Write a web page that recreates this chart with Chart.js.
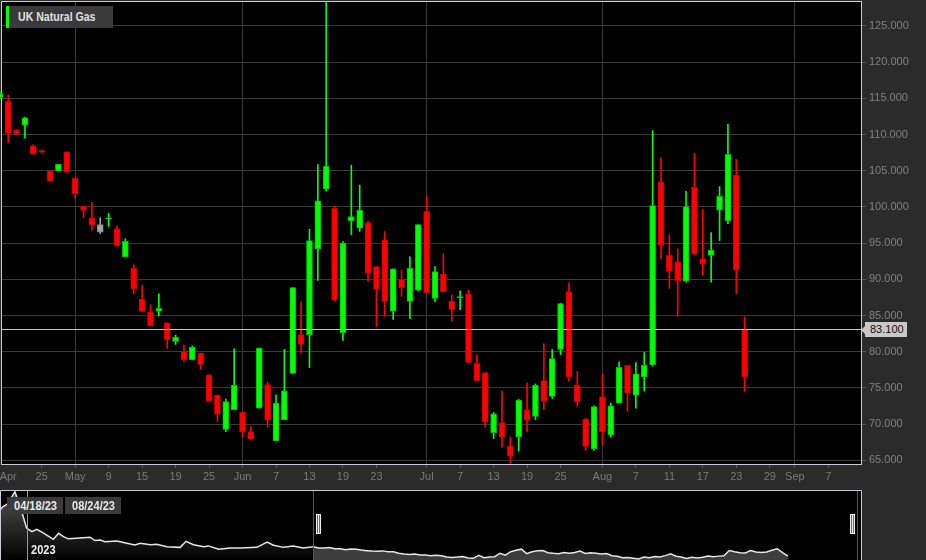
<!DOCTYPE html>
<html><head><meta charset="utf-8">
<script src="https://cdn.jsdelivr.net/npm/chart.js@4.4.0/dist/chart.umd.min.js"></script>
<style>
html,body{margin:0;padding:0;background:#2b2b2b;overflow:hidden;}
#wrap{position:relative;width:926px;height:560px;background:#2b2b2b;font-family:"Liberation Sans",Arial,sans-serif;}
canvas{position:absolute;left:0;}
#main{top:0;}
#nav{top:490px;}
.legend{position:absolute;left:6px;top:6px;width:107px;height:22px;background:#3a3a3a;}
.legend .bar{position:absolute;left:0;top:0;width:3px;height:22px;background:#00ff00;}
.legend .txt{position:absolute;left:12px;top:0;line-height:22px;font-size:12px;font-weight:bold;color:#e0e0e0;transform:scaleX(0.88);transform-origin:left center;white-space:nowrap;}
.navlbl{position:absolute;top:497px;height:17px;width:56px;background:#3a3a3a;}
.navlbl span{position:absolute;left:7px;top:0;line-height:17px;font-size:13px;font-weight:bold;color:#e8e8e8;transform:scaleX(0.85);transform-origin:left center;white-space:nowrap;}
.year{position:absolute;left:31px;top:542px;line-height:16px;font-size:13px;font-weight:bold;color:#f0f0f0;transform:scaleX(0.85);transform-origin:left center;}
#pl{position:absolute;left:865px;top:322px;width:37px;height:15px;padding-left:5px;background:#c8c8c8;color:#111;font-size:11px;line-height:15px;}
#pl:before{content:"";position:absolute;left:-4px;top:3.5px;border-top:4px solid transparent;border-bottom:4px solid transparent;border-right:4px solid #c8c8c8;}
</style>
</head>
<body>
<div id="wrap">
  <canvas id="main" width="926" height="490"></canvas>
  <canvas id="nav" width="926" height="70"></canvas>
  <div class="legend"><div class="bar"></div><div class="txt">UK Natural Gas</div></div>
  <div id="pl">83.100</div>
  <div class="navlbl" style="left:7px"><span>04/18/23</span></div>
  <div class="navlbl" style="left:65px"><span>08/24/23</span></div>
  <div class="year">2023</div>
</div>
<script>
// ---- data ----
const dates = ['04-18','04-19','04-20','04-21','04-24','04-25','04-26','04-27','04-28',
'05-02','05-03','05-04','05-05','05-09','05-10','05-11','05-12','05-15','05-16','05-17','05-18','05-19','05-22','05-23','05-24','05-25','05-26','05-30','05-31',
'06-01','06-02','06-05','06-06','06-07','06-08','06-09','06-12','06-13','06-14','06-15','06-16','06-19','06-20','06-21','06-22','06-23','06-26','06-27','06-28','06-29','06-30',
'07-03','07-04','07-05','07-06','07-07','07-10','07-11','07-12','07-13','07-14','07-17','07-18','07-19','07-20','07-21','07-24','07-25','07-26','07-27','07-28','07-31',
'08-01','08-02','08-03','08-04','08-07','08-08','08-09','08-10','08-11','08-14','08-15','08-16','08-17','08-18','08-21','08-22','08-23','08-24','08-25','08-28','08-29','08-30','08-31',
'09-01','09-04','09-05','09-06','09-07','09-08','09-11','09-12','09-13'];

const opens  = [115.1,114.6,110.6,111.3,108.4,107.8,105.0,105.0,107.6,104.0,
                100.1,98.5,97.55,98.35,97.0,93.1,91.5,87.25,85.45,85.6,
                84.0,81.4,80.0,78.9,79.8,76.8,74.0,69.25,72.0,71.65,
                68.95,72.2,75.45,67.7,70.6,77.0,82.35,82.35,94.2,102.45,
                99.8,82.6,98.05,97.05,97.85,91.75,95.45,85.6,90.0,86.95,
                88.5,99.4,87.35,90.7,86.95,87.45,88.0,78.4,77.1,68.8,
                70.2,67.0,68.25,71.95,71.05,76.0,73.8,80.3,88.3,75.4,
                70.7,66.55,73.8,68.45,72.9,78.1,74.0,76.5,78.2,103.45,
                93.3,92.4,89.75,102.75,92.85,93.3,99.55,98.05,104.4,83.1];
const highs  = [115.9,115.46,110.7,112.4,108.6,107.85,105.0,105.9,107.6,104.0,
                100.1,100.6,98.5,99.1,97.35,95.6,92.0,89.15,86.5,88.0,
                84.0,82.3,80.9,80.8,79.8,76.8,74.0,73.45,80.4,71.65,
                69.65,80.5,75.8,74.05,80.3,88.9,86.9,96.9,105.85,128.25,
                100.05,95.2,105.75,103.0,98.0,91.75,96.6,91.45,91.25,93.1,
                97.55,101.55,91.75,93.55,87.85,88.4,88.55,79.55,77.1,71.6,
                74.55,68.2,73.4,75.65,75.55,81.1,80.3,86.7,89.5,77.25,
                70.8,72.5,76.9,72.9,78.6,78.1,78.5,79.9,110.55,106.75,
                96.15,94.2,102.15,107.4,99.65,96.45,102.8,111.4,106.55,84.8];
const lows   = [114.9,108.9,110.0,109.5,107.3,107.5,103.6,105.0,104.8,101.2,
                98.5,96.8,96.3,97.3,94.6,93.1,88.0,85.5,83.6,84.95,
                80.45,81.0,78.65,78.9,77.6,73.15,70.35,68.95,72.0,68.2,
                67.8,72.2,69.55,67.7,70.6,77.0,79.8,77.8,89.85,102.2,
                87.0,81.55,96.15,96.6,89.75,83.5,84.9,84.45,87.65,84.55,
                88.4,88.1,86.9,88.25,84.2,85.8,78.5,76.0,69.55,68.0,
                66.8,64.6,66.25,68.9,70.6,72.0,73.55,79.6,76.0,72.4,
                66.35,66.4,67.15,68.2,72.9,71.8,72.2,74.55,78.0,92.85,
                88.75,84.9,89.6,93.4,90.6,89.6,95.35,97.7,88.0,74.5];
const closes = [115.7,110.15,110.1,112.3,107.3,107.55,103.6,105.9,104.8,101.8,
                99.5,97.55,96.5,98.5,94.6,95.25,88.7,85.55,83.6,86.0,
                81.65,82.0,78.9,80.65,78.25,73.15,71.35,73.1,75.35,68.95,
                67.95,80.5,70.55,72.9,74.6,88.85,81.0,95.35,100.85,105.6,
                87.2,95.0,98.65,99.55,90.85,88.65,86.95,91.45,88.85,91.5,
                97.55,88.15,91.05,88.3,85.85,87.6,78.5,76.0,70.3,71.4,
                68.25,65.55,73.3,70.55,75.35,73.15,79.05,86.65,76.5,73.1,
                66.9,72.4,68.95,72.5,77.85,74.3,76.95,78.1,100.2,94.7,
                91.1,89.8,100.05,93.55,92.1,94.05,101.45,107.25,91.25,76.5];
const greyDays = ['05-05'];
const lastPrice = 83.1;

const tickDates  = ['04-19','04-25','05-02','05-09','05-15','05-19','05-25','06-01','06-07','06-13','06-19','06-23','07-03','07-07','07-13','07-19','07-25','08-01','08-07','08-11','08-17','08-23','08-29','09-01','09-07'];
const tickLabels = ['Apr','25','May','9','15','19','25','Jun','7','13','19','23','Jul','7','13','19','25','Aug','7','11','17','23','29','Sep','7'];
const yTickValues = [65,70,75,80,85,90,95,100,105,110,115,120,125];

// navigator history before 04/18/23 (offsets in trading days, values)
const historyDays   = [-58.8,-58.3,-57.4,-56.0,-55.0,-53.8,-52.8,-51.9,-50.7,-48.8,-47.8,-46.9,-46.0,-43.8,-41.9,-41.0,-40.0,-39.1,-36.9,-35.0,-33.5,-32.5,-30.6,-29.4,-27.5,-25.0,-23.9,-22.5,-20.6,-19.7,-17.8,-15.6,-13.8,-10.6,-8.7,-7.5,-5.6,-3.8,-1.9];
const historyValues = [267,280,292,342,280,192,178,187,173,146,171,157,148,152,155,141,143,136,139,130,123,130,124,126,116,113,138,124,116,119,105,110,110,113,135,122,113,119,110];
const yearStartDay = -53.8;
const selection = [0, 102];

// ---- helpers ----
const FONT = '"Liberation Sans", Arial, sans-serif';
const tickIdx = tickDates.map(d => dates.indexOf(d));
function labelFor(v){ const k = tickIdx.indexOf(v); return k >= 0 ? tickLabels[k] : ''; }
function isMonthTick(t){ if(!t) return false; const l = labelFor(t.value); return t.value !== tickIdx[0] && isNaN(Number(l)); }
function kind(i){ if (greyDays.includes(dates[i])) return 'flat'; return closes[i] >= opens[i] ? 'up' : 'down'; }
const fillCol = {up:'#00ff00', down:'#ff0000', flat:'#a6a6a6'};
const edgeCol = {up:'#00c000', down:'#cc0000', flat:'#808080'};

const wickData = closes.map((c,i) => ({x:i, y:[lows[i], highs[i]]}));
const bodyData = closes.map((c,i) => ({x:i, y:[opens[i], closes[i]]}));

const framePlugin = {
  id:'frame',
  beforeDraw(chart){
    const a = chart.chartArea, c = chart.ctx;
    c.save(); c.fillStyle = '#000'; c.fillRect(a.left, a.top, a.right-a.left, a.bottom-a.top); c.restore();
  },
  beforeDatasetsDraw(chart){
    const a = chart.chartArea, c = chart.ctx;
    c.save(); c.strokeStyle = '#c9ccd8'; c.lineWidth = 1;
    c.strokeRect(a.left+0.5, a.top+0.5, a.right-a.left, a.bottom-a.top);
    c.restore();
  }
};
const pricePlugin = {
  id:'price',
  afterDatasetsDraw(chart){
    const a = chart.chartArea, c = chart.ctx;
    const y = chart.scales.y.getPixelForValue(lastPrice);
    const yy = Math.round(y) + 0.5;
    c.save(); c.strokeStyle = '#c4c4c4'; c.lineWidth = 1;
    c.beginPath(); c.moveTo(a.left, yy); c.lineTo(a.right, yy); c.stroke(); c.restore();
    const el = document.getElementById('pl');
    el.style.top = (yy - 7.5) + 'px';
    el.style.left = (a.right + 4) + 'px';
  }
};

new Chart(document.getElementById('main'), {
  type:'bar',
  data:{datasets:[
    {label:'range', data:wickData, order:1, grouped:false, barThickness:1, borderWidth:0, clip:false,
     backgroundColor: ctx => fillCol[kind(ctx.dataIndex)]},
    {label:'UK Natural Gas', data:bodyData, order:0, grouped:false, barThickness:6, borderWidth:1, borderSkipped:false, clip:false,
     backgroundColor: ctx => fillCol[kind(ctx.dataIndex)], borderColor: ctx => edgeCol[kind(ctx.dataIndex)]}
  ]},
  options:{
    responsive:false, animation:false, events:[],
    layout:{padding:{left:1, top:1, right:0, bottom:0}},
    plugins:{legend:{display:false}, tooltip:{enabled:false}},
    scales:{
      x:{type:'linear', min:0.14, max:102.9, offset:false, border:{display:false},
         grid:{offset:false, lineWidth:1, tickLength:4,
               color: c => isMonthTick(c.tick) ? '#3a3a3a' : 'rgba(0,0,0,0)',
               tickColor: c => (c.tick && c.tick.value === tickIdx[0]) ? 'rgba(0,0,0,0)' : '#555'},
         ticks:{color:'#7a7a7a', font:{family:FONT, size:11}, padding:2, maxRotation:0, autoSkip:false,
                callback: v => labelFor(v)},
         afterBuildTicks: s => { s.ticks = tickIdx.map(v => ({value:v})); },
         afterFit: s => { s.height = 26; s.paddingLeft = 0; s.paddingRight = 0; }
      },
      y:{type:'linear', position:'right', min:64.48, max:128.45, border:{display:false},
         grid:{color:'#3a3a3a', tickColor:'#555', tickLength:5},
         ticks:{color:'#808080', font:{family:FONT, size:11}, padding:3, callback: v => Number(v).toFixed(3)},
         afterBuildTicks: s => { s.ticks = yTickValues.map(v => ({value:v})); },
         afterFit: s => { s.width = 65; s.paddingTop = 0; s.paddingBottom = 0; }
      }
    }
  },
  plugins:[framePlugin, pricePlugin]
});

// ---- navigator ----
const histPts = historyDays.map((d,k) => ({x:d, y:historyValues[k]})).concat([{x:0, y:closes[0]}]);
const recentPts = closes.map((c,i) => ({x:i, y:c}));

const navPlugin = {
  id:'navdeco',
  beforeDraw(chart){
    const a = chart.chartArea, c = chart.ctx;
    c.save(); c.fillStyle = '#000'; c.fillRect(a.left, a.top, a.right-a.left, a.bottom-a.top); c.restore();
  },
  afterDatasetsDraw(chart){
    const a = chart.chartArea, c = chart.ctx, xs = chart.scales.x;
    c.save();
    c.lineWidth = 1;
    const yx = Math.round(xs.getPixelForValue(yearStartDay)) + 0.5;
    c.strokeStyle = '#9a9a9a';
    c.beginPath(); c.moveTo(yx, a.top); c.lineTo(yx, a.bottom); c.stroke();
    const sl = Math.round(xs.getPixelForValue(selection[0])) + 0.5;
    const sr = Math.round(xs.getPixelForValue(selection[1])) + 0.5;
    c.strokeStyle = '#555';
    c.beginPath(); c.moveTo(sl, a.top); c.lineTo(sl, a.bottom); c.moveTo(sr, a.top); c.lineTo(sr, a.bottom); c.stroke();
    function handle(x){
      c.fillStyle = '#eeeeee'; c.fillRect(x, 24, 5, 20);
      c.fillStyle = '#6a6a6a'; c.fillRect(x+1, 25, 1, 18); c.fillRect(x+3, 25, 1, 18);
    }
    handle(Math.round(sl) + 2);
    handle(Math.round(sr) - 8);
    c.strokeStyle = '#c9ccd8';
    c.beginPath();
    c.moveTo(a.left+0.5, a.bottom); c.lineTo(a.left+0.5, a.top+0.5); c.lineTo(a.right-0.5, a.top+0.5); c.lineTo(a.right-0.5, a.bottom);
    c.stroke();
    c.restore();
  }
};

new Chart(document.getElementById('nav'), {
  type:'line',
  data:{datasets:[
    {data:histPts, borderColor:'#e6e6e6', borderWidth:1.5, pointRadius:0, tension:0, fill:'start',
     backgroundColor: ctx => {
       const a = ctx.chart.chartArea; if (!a) return '#222';
       const g = ctx.chart.ctx.createLinearGradient(0, a.top, 0, a.bottom);
       g.addColorStop(0, '#555'); g.addColorStop(1, '#000'); return g;
     }},
    {data:recentPts, borderColor:'#e6e6e6', borderWidth:1.5, pointRadius:0, tension:0, fill:'start', backgroundColor:'#3d3d3d'}
  ]},
  options:{
    responsive:false, animation:false, events:[],
    layout:{padding:{left:0, right:64, top:0, bottom:0}},
    plugins:{legend:{display:false}, tooltip:{enabled:false}},
    scales:{
      x:{type:'linear', display:false, min:-58.8, max:102.9},
      y:{type:'linear', display:false, min:61, max:349}
    }
  },
  plugins:[navPlugin]
});
</script>
</body></html>
